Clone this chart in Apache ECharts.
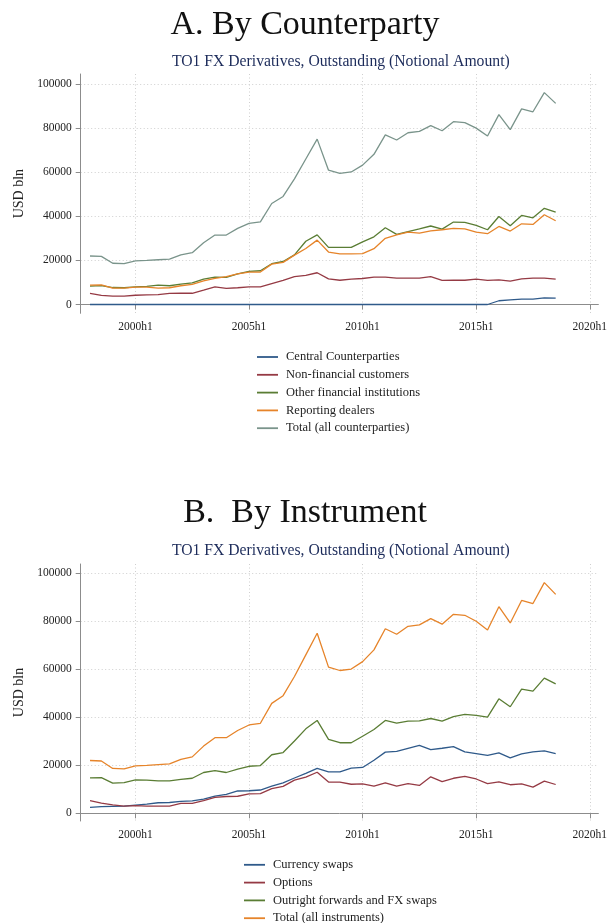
<!DOCTYPE html>
<html>
<head>
<meta charset="utf-8">
<script src="https://cdn.jsdelivr.net/npm/echarts@6/dist/echarts.min.js"></script>
<style>
html,body{margin:0;padding:0;background:#fff;}
#chart{width:610px;height:923px;}
</style>
</head>
<body>
<div id="chart"></div>
<script>
// ---- Data ----
const periods = ['1998h1','1998h2','1999h1','1999h2','2000h1','2000h2','2001h1','2001h2','2002h1','2002h2',
  '2003h1','2003h2','2004h1','2004h2','2005h1','2005h2','2006h1','2006h2','2007h1','2007h2',
  '2008h1','2008h2','2009h1','2009h2','2010h1','2010h2','2011h1','2011h2','2012h1','2012h2',
  '2013h1','2013h2','2014h1','2014h2','2015h1','2015h2','2016h1','2016h2','2017h1','2017h2',
  '2018h1','2018h2'];

// Panel A: by counterparty (USD bln)
const centralCounterparties = [0,0,0,0,0,0,0,0,0,0,0,0,0,0,0,0,0,0,0,0,0,0,0,0,0,0,0,0,0,0,0,0,0,0,0,0,
  1700,2100,2400,2400,3000,2900];
const nonFinancialCustomers = [5000,4100,3800,3800,4200,4400,4500,5000,5100,5100,6500,8000,7300,7600,8000,8000,
  9500,10900,12600,13200,14400,11600,11000,11500,11800,12400,12400,12000,12000,12000,12600,10900,11000,11000,
  11500,10900,11200,10600,11600,12000,12000,11500];
const otherFinancialInstitutions = [8300,8600,7700,7600,8000,8200,8800,8500,9200,9800,11500,12400,12300,13900,
  15000,15300,18500,19500,22500,28700,31600,25900,25900,25900,28400,30700,34800,31800,33100,34300,35600,34200,
  37400,37200,35900,33900,39900,35700,40400,39300,43600,41900];
const reportingDealers = [8800,8900,7400,7400,7900,7900,7400,7600,8500,9100,10700,11800,12600,13900,14700,14700,
  18300,19100,22400,25400,29200,23800,23000,23000,23100,25300,30000,31600,32800,32400,33400,33900,34500,34300,
  32800,32100,35400,33300,36600,36300,40700,38000];
const totalAll = [22000,21800,18700,18500,19800,20000,20300,20600,22500,23500,28000,31500,31500,34500,36800,37500,
  45800,49000,57000,66000,75000,60900,59500,60100,63200,68100,76900,74600,77900,78500,81100,78800,82900,82500,
  80000,76400,86100,79300,88700,87400,96100,91200];

// Panel B: by instrument (USD bln)
const currencySwaps = [2500,2800,2900,3000,3400,3800,4400,4500,5000,5200,5900,7200,7900,9300,9400,9700,11300,12700,
  14700,16600,18700,17300,17300,18800,19100,22100,25500,25800,27100,28300,26500,27100,27800,25600,24900,24100,
  25200,23100,24800,25600,26000,24900];
const options = [5300,4200,3500,3000,3200,3000,3000,3000,4100,4100,5300,6600,7000,7100,8100,8200,10300,11200,13800,
  15100,17100,13000,13000,12100,12300,11300,12700,11300,12400,11600,15200,13200,14600,15400,14300,12400,13100,
  11900,12300,10900,13400,12000];
const outrightForwards = [14800,14900,12600,12800,13900,13800,13500,13500,14100,14600,17000,17800,17000,18400,19600,
  19900,24400,25300,30100,35200,38700,30800,29400,29400,32100,34900,38700,37600,38400,38500,39500,38400,40300,
  41200,40800,40100,47700,44400,51700,50900,56300,53900];

// Tick labels
const xTickLabels = ['2000h1','2005h1','2010h1','2015h1','2020h1'];
const yTickValues = [0,20000,40000,60000,80000,100000];

// ---- Helpers ----
function toT(p){ const y = +p.slice(0,4), h = +p.slice(5); return (y-1960)*2 + (h-1); }
const tVals = periods.map(toT);
const xTickVals = xTickLabels.map(toT);
const labelOf = {}; xTickLabels.forEach((l,i)=>{ labelOf[xTickVals[i]] = l; });
function pairs(arr){ return arr.map((v,i)=>[tVals[i], v]); }

const SERIF = "'Liberation Serif', 'DejaVu Serif', serif";
const C = {navy:'#2f5a8a', maroon:'#953a44', green:'#5a7d34', orange:'#e6842a', teal:'#7a948b'};

function xAxisCfg(gi){
  return {
    type:'value', gridIndex:gi, min:75.18, max:120.76,
    axisLine:{show:true, lineStyle:{color:'#8c8c8c', width:1}},
    axisTick:{show:true, length:5, lineStyle:{color:'#8c8c8c'}, customValues:xTickVals},
    axisLabel:{customValues:xTickVals, margin:8, color:'#222', fontFamily:SERIF, fontSize:11.5,
      formatter:v=>labelOf[Math.round(v)] || ''},
    splitLine:{show:true, lineStyle:{color:'#cfcfcf', type:[1,2.5], width:1}}
  };
}
function yAxisCfg(gi, min, max){
  return {
    type:'value', gridIndex:gi, min:min, max:max,
    name:'USD bln', nameLocation:'middle', nameGap:54, nameRotate:90,
    nameTextStyle:{fontFamily:SERIF, fontSize:14, color:'#222'},
    axisLine:{show:true, lineStyle:{color:'#8c8c8c', width:1}},
    axisTick:{show:true, length:5, lineStyle:{color:'#8c8c8c'}, customValues:yTickValues},
    axisLabel:{customValues:yTickValues, margin:9, color:'#222', fontFamily:SERIF, fontSize:11.5,
      formatter:v=>String(Math.round(v))},
    splitLine:{show:true, lineStyle:{color:'#cfcfcf', type:[1,2.5], width:1}}
  };
}
function line(name, arr, color, xi){
  return {name:name, type:'line', xAxisIndex:xi, yAxisIndex:xi, data:pairs(arr),
    symbol:'none', lineStyle:{color:color, width:1.3}, itemStyle:{color:color}, animation:false, z:3};
}

const legendCommon = {
  orient:'vertical', padding:0, itemWidth:21, itemHeight:10, itemGap:4.8, height:120,
  icon:'path://M0,0 M0,4.1 L21,4.1 L21,5.9 L0,5.9 Z M21,10',
  itemStyle:{borderWidth:0},
  textStyle:{fontFamily:SERIF, fontSize:12.5, color:'#222', lineHeight:10, padding:[0,0,0,3]}
};

const chart = echarts.init(document.getElementById('chart'), null, {renderer:'canvas'});
chart.setOption({
  backgroundColor:'#fff',
  animation:false,
  title:[
    {text:'A. By Counterparty', left:'center', top:3,
      textStyle:{fontFamily:SERIF, fontSize:34, fontWeight:'normal', color:'#111'}},
    {text:'B.  By Instrument', left:'center', top:491,
      textStyle:{fontFamily:SERIF, fontSize:34, fontWeight:'normal', color:'#111'}}
  ],
  graphic:[
    {type:'text', x:340.8, y:62, style:{text:'TO1 FX Derivatives, Outstanding (Notional Amount)',
      fontFamily:SERIF, fontSize:15.7, fill:'#1c2b5a', textAlign:'center', textVerticalAlign:'middle'}},
    {type:'text', x:340.8, y:551, style:{text:'TO1 FX Derivatives, Outstanding (Notional Amount)',
      fontFamily:SERIF, fontSize:15.7, fill:'#1c2b5a', textAlign:'center', textVerticalAlign:'middle'}}
  ],
  grid:[
    {left:80.7, top:74, width:520.3, height:239.3},
    {left:80.7, top:564, width:520.3, height:257}
  ],
  xAxis:[xAxisCfg(0), xAxisCfg(1)],
  yAxis:[yAxisCfg(0, -3991, 104535), yAxisCfg(1, -3208, 103875)],
  legend:[
    Object.assign({}, legendCommon, {left:257, top:350.5,
      data:['Central Counterparties','Non-financial customers','Other financial institutions','Reporting dealers','Total (all counterparties)']}),
    Object.assign({}, legendCommon, {left:244, top:858.3,
      data:['Currency swaps','Options','Outright forwards and FX swaps','Total (all instruments)']})
  ],
  series:[
    line('Central Counterparties', centralCounterparties, C.navy, 0),
    line('Non-financial customers', nonFinancialCustomers, C.maroon, 0),
    line('Other financial institutions', otherFinancialInstitutions, C.green, 0),
    line('Reporting dealers', reportingDealers, C.orange, 0),
    line('Total (all counterparties)', totalAll, C.teal, 0),
    line('Currency swaps', currencySwaps, C.navy, 1),
    line('Options', options, C.maroon, 1),
    line('Outright forwards and FX swaps', outrightForwards, C.green, 1),
    line('Total (all instruments)', totalAll, C.orange, 1)
  ]
});
</script>
</body>
</html>
